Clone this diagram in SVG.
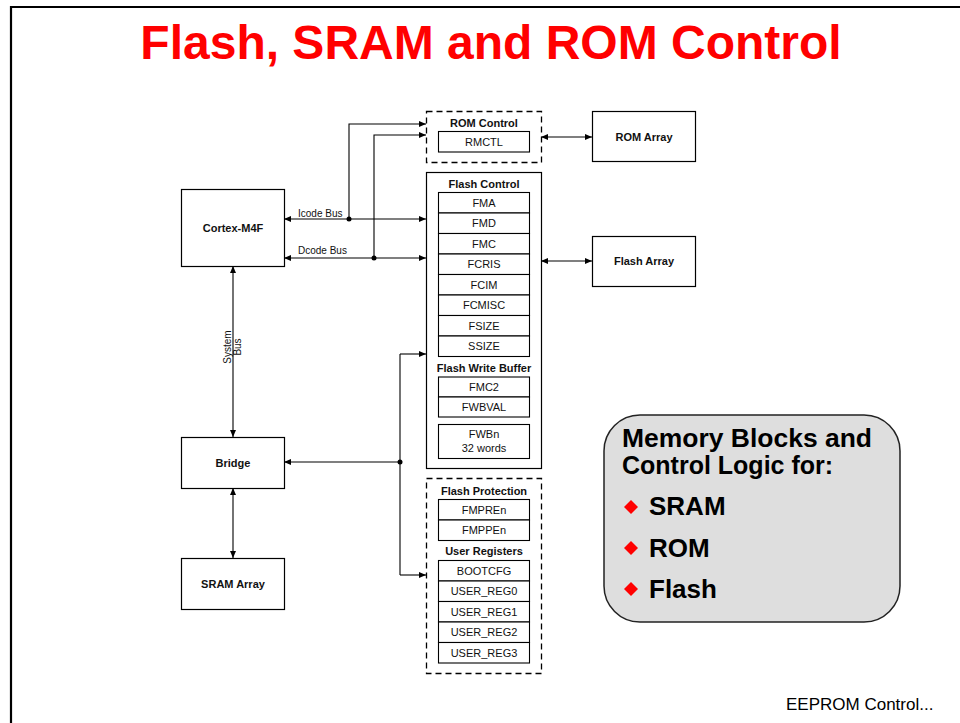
<svg xmlns="http://www.w3.org/2000/svg" width="960" height="723" viewBox="0 0 960 723">
<style>
.box{fill:#fff;stroke:#000;stroke-width:1.2}
.dash{fill:#fff;stroke:#000;stroke-width:1.3;stroke-dasharray:6 4}
.reg{fill:#fff;stroke:#000;stroke-width:1.1}
.t{font-family:"Liberation Sans",Arial,sans-serif;font-size:11px;fill:#111;text-anchor:middle}
.b{font-weight:bold}
.lbl{font-family:"Liberation Sans",Arial,sans-serif;font-size:10px;fill:#111}
.w{fill:none;stroke:#000;stroke-width:1.1}
.big{font-family:"Liberation Sans",Arial,sans-serif;font-size:26px;font-weight:bold;fill:#000}
</style>
<defs>
<marker id="ah" markerUnits="userSpaceOnUse" markerWidth="8" markerHeight="7" refX="7" refY="3" orient="auto-start-reverse" viewBox="0 0 8 6">
<path d="M0,0 L7,3 L0,6 z" fill="#000"/>
</marker>
</defs>
<rect x="0" y="0" width="960" height="723" fill="#fff"/>
<path d="M11,723 V7 H960" fill="none" stroke="#000" stroke-width="2.2"/>
<text x="491" y="59" text-anchor="middle" font-family="'Liberation Sans',Arial,sans-serif" font-size="48" font-weight="bold" fill="#ff0000">Flash, SRAM and ROM Control</text>

<g id="connectors">
<line class="w" x1="284" y1="219" x2="426" y2="219" marker-start="url(#ah)" marker-end="url(#ah)"/>
<line class="w" x1="284" y1="258" x2="426" y2="258" marker-start="url(#ah)" marker-end="url(#ah)"/>
<path class="w" d="M349,219 V124 H426" marker-end="url(#ah)"/>
<path class="w" d="M374,258 V135 H426" marker-end="url(#ah)"/>
<circle cx="349" cy="219" r="2.5"/>
<circle cx="374" cy="258" r="2.5"/>
<line class="w" x1="541" y1="137" x2="592" y2="137" marker-start="url(#ah)" marker-end="url(#ah)"/>
<line class="w" x1="541" y1="261" x2="592" y2="261" marker-start="url(#ah)" marker-end="url(#ah)"/>
<line class="w" x1="233" y1="266" x2="233" y2="437" marker-start="url(#ah)" marker-end="url(#ah)"/>
<line class="w" x1="233" y1="488" x2="233" y2="558" marker-start="url(#ah)" marker-end="url(#ah)"/>
<path class="w" d="M400,354 H426" marker-end="url(#ah)"/>
<path class="w" d="M400,575 H426" marker-end="url(#ah)"/>
<line class="w" x1="400" y1="354" x2="400" y2="575"/>
<line class="w" x1="400" y1="462" x2="284" y2="462" marker-end="url(#ah)"/>
<circle cx="400" cy="462" r="2.5"/>
<text class="lbl" x="298" y="217">Icode Bus</text>
<text class="lbl" x="298" y="254">Dcode Bus</text>
<text class="lbl" text-anchor="middle" transform="translate(231,347) rotate(-90)">System</text>
<text class="lbl" text-anchor="middle" transform="translate(241,347) rotate(-90)">Bus</text>
</g>

<g id="cortex">
<rect class="box" x="181.5" y="189.5" width="103" height="77"/>
<text class="t b" x="233" y="231.5">Cortex-M4F</text>
</g>
<g id="bridge">
<rect class="box" x="181.5" y="437.5" width="103" height="51"/>
<text class="t b" x="233" y="466.5">Bridge</text>
</g>
<g id="sram">
<rect class="box" x="181.5" y="558.5" width="103" height="51"/>
<text class="t b" x="233" y="588">SRAM Array</text>
</g>
<g id="romarray">
<rect class="box" x="592.5" y="111.5" width="103" height="50"/>
<text class="t b" x="644" y="140.5">ROM Array</text>
</g>
<g id="flasharray">
<rect class="box" x="592.5" y="236.5" width="103" height="50"/>
<text class="t b" x="644" y="265">Flash Array</text>
</g>

<g id="romcontrol">
<rect class="dash" x="426.5" y="111.5" width="115" height="51"/>
<text class="t b" x="484" y="127">ROM Control</text>
<rect class="reg" x="438.5" y="131.5" width="91" height="20.5"/>
<text class="t" x="484" y="145.5">RMCTL</text>
</g>

<g id="flashcontrol">
<rect class="box" x="426.5" y="172.5" width="115" height="296"/>
<text class="t b" x="484" y="188">Flash Control</text>
<rect class="reg" x="438.5" y="192.5" width="91" height="20.5"/>
<rect class="reg" x="438.5" y="213" width="91" height="20.5"/>
<rect class="reg" x="438.5" y="233.5" width="91" height="20.5"/>
<rect class="reg" x="438.5" y="254" width="91" height="20.5"/>
<rect class="reg" x="438.5" y="274.5" width="91" height="20.5"/>
<rect class="reg" x="438.5" y="295" width="91" height="20.5"/>
<rect class="reg" x="438.5" y="315.5" width="91" height="20.5"/>
<rect class="reg" x="438.5" y="336" width="91" height="20.5"/>
<text class="t" x="484" y="206.8">FMA</text>
<text class="t" x="484" y="227.3">FMD</text>
<text class="t" x="484" y="247.8">FMC</text>
<text class="t" x="484" y="268.3">FCRIS</text>
<text class="t" x="484" y="288.8">FCIM</text>
<text class="t" x="484" y="309.3">FCMISC</text>
<text class="t" x="484" y="329.8">FSIZE</text>
<text class="t" x="484" y="350.3">SSIZE</text>
<text class="t b" x="484" y="372">Flash Write Buffer</text>
<rect class="reg" x="438.5" y="377" width="91" height="20"/>
<rect class="reg" x="438.5" y="397" width="91" height="20"/>
<text class="t" x="484" y="391">FMC2</text>
<text class="t" x="484" y="411">FWBVAL</text>
<rect class="reg" x="438.5" y="424.5" width="91" height="34"/>
<text class="t" x="484" y="438">FWBn</text>
<text class="t" x="484" y="452">32 words</text>
</g>

<g id="flashprotection">
<rect class="dash" x="426.5" y="478.5" width="115" height="195"/>
<text class="t b" x="484" y="495">Flash Protection</text>
<rect class="reg" x="438.5" y="499.5" width="91" height="20.5"/>
<rect class="reg" x="438.5" y="520" width="91" height="20.5"/>
<text class="t" x="484" y="513.8">FMPREn</text>
<text class="t" x="484" y="534.3">FMPPEn</text>
<text class="t b" x="484" y="555">User Registers</text>
<rect class="reg" x="438.5" y="560.5" width="91" height="20.5"/>
<rect class="reg" x="438.5" y="581" width="91" height="20.5"/>
<rect class="reg" x="438.5" y="601.5" width="91" height="20.5"/>
<rect class="reg" x="438.5" y="622" width="91" height="20.5"/>
<rect class="reg" x="438.5" y="642.5" width="91" height="20.5"/>
<text class="t" x="484" y="574.8">BOOTCFG</text>
<text class="t" x="484" y="595.3">USER_REG0</text>
<text class="t" x="484" y="615.8">USER_REG1</text>
<text class="t" x="484" y="636.3">USER_REG2</text>
<text class="t" x="484" y="656.8">USER_REG3</text>
</g>

<g id="callout">
<rect x="604" y="415" width="296" height="207" rx="36" ry="36" fill="#dedede" stroke="#222" stroke-width="1.5"/>
<text class="big" x="622" y="447" font-size="25" style="font-size:25px" textLength="250" lengthAdjust="spacingAndGlyphs">Memory Blocks and</text>
<text class="big" x="622" y="474" style="font-size:25px">Control Logic for:</text>
<path d="M631,500 L638,507 L631,514 L624,507 z" fill="#ff0000"/>
<path d="M631,541 L638,548 L631,555 L624,548 z" fill="#ff0000"/>
<path d="M631,582 L638,589 L631,596 L624,589 z" fill="#ff0000"/>
<text class="big" x="649" y="515">SRAM</text>
<text class="big" x="649" y="557">ROM</text>
<text class="big" x="649" y="598">Flash</text>
</g>

<text x="786" y="710" font-family="'Liberation Sans',Arial,sans-serif" font-size="17" fill="#000">EEPROM Control...</text>
</svg>
